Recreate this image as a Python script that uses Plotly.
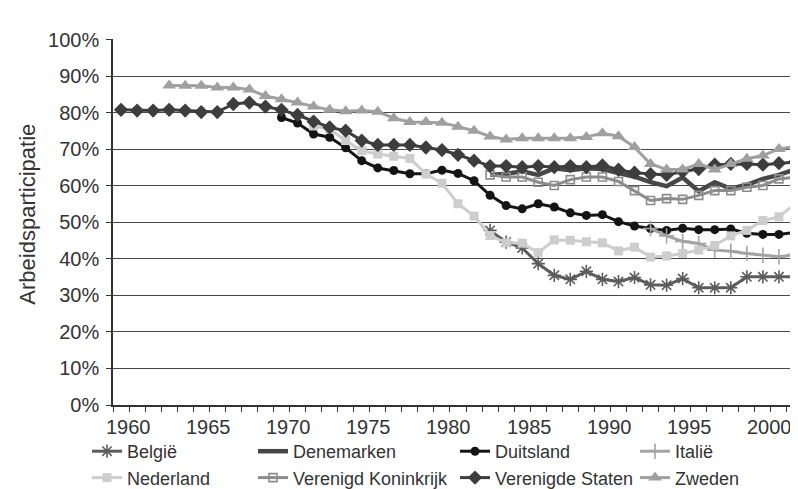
import plotly.graph_objects as go

# Category axis: years
years = list(range(1960, 2003))
tick_years = [1960, 1965, 1970, 1975, 1980, 1985, 1990, 1995, 2000]

# Series (percent), each with its first year
belgie_start = 1983
belgie = [47.8, 44.6, 43.0, 38.7, 35.5, 34.4, 36.6, 34.4, 33.8, 34.9,
          32.9, 32.8, 34.6, 32.1, 32.1, 32.1, 35.1, 35.1, 35.1, 35.1]

denemarken_start = 1983
denemarken = [63.0, 63.3, 64.0, 63.0, 64.8, 64.3, 64.8, 64.6, 63.5, 62.5,
              61.0, 59.9, 62.3, 58.5, 61.0, 59.2, 60.3, 61.9, 63.0, 64.5]

duitsland_start = 1970
duitsland = [78.7, 77.2, 74.2, 73.3, 70.4, 66.9, 64.9, 64.2, 63.3, 63.3,
             64.3, 63.4, 61.4, 57.4, 54.6, 53.7, 55.1, 54.2, 52.6, 51.9,
             52.1, 50.2, 49.0, 48.3, 47.8, 48.4, 48.0, 48.0, 48.2, 47.0,
             46.7, 46.7, 47.3]

italie_start = 1993
italie = [48.3, 46.3, 44.8, 44.2, 42.4, 42.1, 41.5, 41.0, 40.6, 41.2]

nederland_start = 1972
nederland = [76.4, 75.5, 72.4, 69.6, 68.7, 68.1, 67.5, 63.3,
             60.7, 55.1, 51.7, 46.4, 44.4, 44.3, 41.7, 45.2, 45.1, 44.7,
             44.4, 42.2, 43.2, 40.5, 40.8, 41.5, 42.4, 43.7, 46.3, 47.8,
             50.5, 51.5, 55.1]

vk_start = 1983
verenigd_koninkrijk = [63.0, 62.4, 62.4, 61.0, 60.1, 61.7, 62.4, 62.4, 61.2, 58.7,
                       56.0, 56.5, 56.3, 57.4, 58.7, 58.7, 59.6, 60.1, 61.9, 62.4]

vs_start = 1960
verenigde_staten = [80.8, 80.6, 80.6, 80.8, 80.6, 80.2, 80.2, 82.4, 82.8, 81.7,
                    80.8, 79.4, 77.6, 76.0, 75.1, 72.4, 71.2, 71.2, 71.2, 70.5,
                    69.8, 68.5, 66.9, 65.4, 65.4, 65.1, 65.4, 65.1, 65.4, 65.1,
                    65.6, 64.4, 63.6, 63.2, 63.0, 63.9, 64.6, 65.8, 66.0, 66.0,
                    65.8, 66.2, 66.5]

zweden_start = 1963
zweden = [87.5, 87.4, 87.4, 86.9, 86.9, 86.4, 84.6,
          83.7, 82.8, 81.7, 80.8, 80.4, 80.6, 80.3, 78.5, 77.5, 77.5,
          77.3, 76.2, 75.1, 73.5, 72.7, 73.0, 73.0, 73.0, 73.0, 73.4,
          74.4, 73.6, 70.6, 66.0, 64.5, 64.5, 66.0, 64.5, 66.0, 67.4,
          68.3, 70.1, 70.8]

FONT = "'Liberation Sans', Arial, Helvetica, sans-serif"
TXT = "#333333"


def xs(start, vals):
    i = years.index(start)
    return years[i:i + len(vals)]


series = [
    dict(name="België", start=belgie_start, vals=belgie, color="#5c5c5c", width=3,
         marker=dict(symbol="asterisk-open", size=11, line=dict(color="#5c5c5c", width=1.6)),
         legend="legend"),
    dict(name="Denemarken", start=denemarken_start, vals=denemarken, color="#474747", width=4.5,
         marker=None, legend="legend2"),
    dict(name="Duitsland", start=duitsland_start, vals=duitsland, color="#141414", width=3,
         marker=dict(symbol="circle", size=9, color="#141414"), legend="legend3"),
    dict(name="Italië", start=italie_start, vals=italie, color="#a3a3a3", width=3,
         marker=dict(symbol="cross-thin-open", size=11, line=dict(color="#a3a3a3", width=1.6)),
         legend="legend4"),
    dict(name="Nederland", start=nederland_start, vals=nederland, color="#cdcdcd", width=3,
         marker=dict(symbol="square", size=9, color="#cdcdcd"), legend="legend"),
    dict(name="Verenigd Koninkrijk", start=vk_start, vals=verenigd_koninkrijk, color="#8c8c8c", width=3,
         marker=dict(symbol="square-open", size=8, color="#8c8c8c", line=dict(color="#8c8c8c", width=1.6)),
         legend="legend2"),
    dict(name="Verenigde Staten", start=vs_start, vals=verenigde_staten, color="#3d3d3d", width=3,
         marker=dict(symbol="diamond", size=11, color="#3d3d3d"), legend="legend3"),
    dict(name="Zweden", start=zweden_start, vals=zweden, color="#a0a0a0", width=3,
         marker=dict(symbol="triangle-up", size=12, color="#a0a0a0"), legend="legend4"),
]

fig = go.Figure()
for s in series:
    kw = dict(
        x=xs(s["start"], s["vals"]), y=s["vals"], name=s["name"],
        line=dict(color=s["color"], width=s["width"]),
        legend=s["legend"],
    )
    if s["marker"] is None:
        kw["mode"] = "lines"
    else:
        kw["mode"] = "lines+markers"
        kw["marker"] = s["marker"]
    fig.add_trace(go.Scatter(**kw))

ML, MR, MT, MB = 105, 3, 31, 92
PW = 798 - ML - MR

# Year labels under the category axis (ticks sit on category boundaries)
for t in tick_years:
    fig.add_annotation(x=t, y=0, xref="x", yref="paper", text=str(t),
                       showarrow=False, yanchor="top", yshift=-9, xshift=7,
                       font=dict(family=FONT, size=20, color=TXT))

# Y-axis title
fig.add_annotation(x=(20 - ML) / PW, y=0.52, xref="paper", yref="paper",
                   text="Arbeidsparticipatie", textangle=-90, showarrow=False,
                   xanchor="center", yanchor="middle",
                   font=dict(family=FONT, size=22, color=TXT))

legend_common = dict(
    orientation="v", xref="paper", yref="container",
    yanchor="top", xanchor="left",
    font=dict(family=FONT, size=18, color=TXT),
    bgcolor="rgba(0,0,0,0)", tracegroupgap=0, itemwidth=30,
)
leg_px = [79, 245, 447, 627]
leg_y = 1 - 425 / 489

fig.update_layout(
    width=798, height=489,
    margin=dict(l=ML, r=MR, t=MT, b=MB),
    paper_bgcolor="white", plot_bgcolor="white",
    font=dict(family=FONT, size=20, color=TXT),
    showlegend=True,
    legend=dict(x=(leg_px[0] - ML) / PW, y=leg_y, **legend_common),
    legend2=dict(x=(leg_px[1] - ML) / PW, y=leg_y, **legend_common),
    legend3=dict(x=(leg_px[2] - ML) / PW, y=leg_y, **legend_common),
    legend4=dict(x=(leg_px[3] - ML) / PW, y=leg_y, **legend_common),
    xaxis=dict(
        range=[1959.5, 2002.5],
        tickmode="linear", tick0=1959.5, dtick=1,
        ticks="outside", ticklen=5, tickcolor="#333333", tickwidth=1,
        showticklabels=False, showgrid=False, zeroline=False,
        showline=True, linecolor="#333333", linewidth=1.5,
    ),
    yaxis=dict(
        range=[0, 100.2], tickmode="linear", tick0=0, dtick=10,
        ticksuffix="%", ticks="outside", ticklen=5, tickcolor="#333333",
        ticklabelstandoff=3,
        showgrid=True, gridcolor="#474747", gridwidth=1,
        zeroline=False, showline=True, linecolor="#333333", linewidth=1.5,
        tickfont=dict(family=FONT, size=20, color=TXT),
        automargin=False,
    ),
)

fig.write_html("out.html")
